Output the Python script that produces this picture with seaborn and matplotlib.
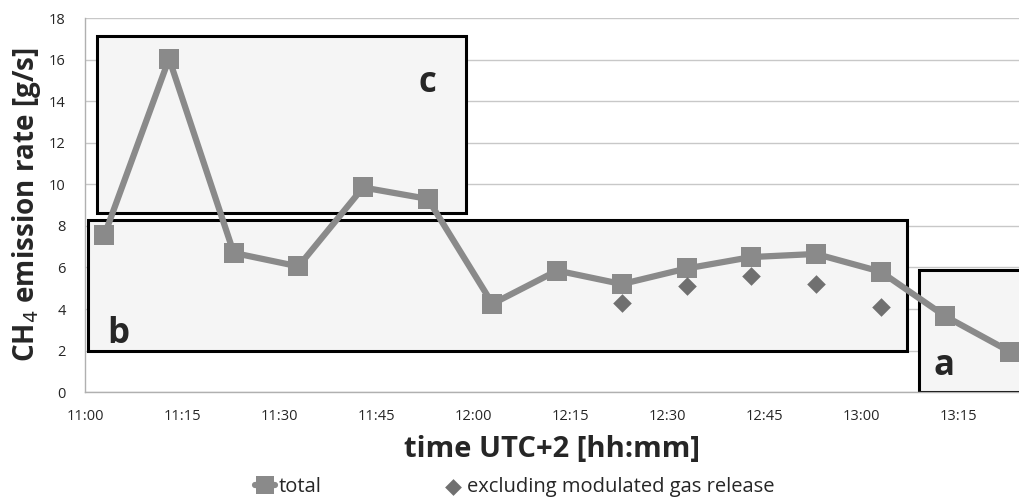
import numpy as np
import pandas as pd
import seaborn as sns
import matplotlib.pyplot as plt
from matplotlib.patches import Rectangle
from matplotlib.ticker import MultipleLocator, FuncFormatter

# minutes after 11:00
total_time = [3, 13, 23, 33, 43, 53, 63, 73, 83, 93, 103, 113, 123, 133, 143]
total_rate = [7.55, 16.05, 6.7, 6.05, 9.85, 9.3, 4.25, 5.85, 5.2, 5.95, 6.5, 6.65, 5.8, 3.65, 1.95]
excl_time = [83, 93, 103, 113, 123]
excl_rate = [4.3, 5.1, 5.6, 5.2, 4.1]

# highlighted periods: (x0, x1, y0, y1, label)
boxes = [(1.9, 58.9, 8.6, 17.15, 'c'),
         (0.5, 127.1, 1.97, 8.28, 'b'),
         (129.0, 150.0, 0.0, 5.87, 'a')]

sns.set_style('white')
plt.rcParams['font.family'] = ['Open Sans', 'DejaVu Sans']

fig = plt.figure(figsize=(10.19, 5.04), dpi=100)
ax = fig.add_axes([0.0834, 0.222, 0.9166, 0.742])

for x0, x1, y0, y1, lab in boxes:
    ax.add_patch(Rectangle((x0, y0), x1 - x0, y1 - y0, facecolor='#f5f5f5',
                           edgecolor='black', linewidth=2.2, zorder=1))

ax.text(53, 14.9, 'c', fontsize=25, fontweight='bold', ha='center', va='center', zorder=2)
ax.text(5.2, 2.8, 'b', fontsize=25, fontweight='bold', ha='center', va='center', zorder=2)
ax.text(132.8, 1.25, 'a', fontsize=25, fontweight='bold', ha='center', va='center', zorder=2)

df_total = pd.DataFrame({'t': total_time, 'rate': total_rate})
df_excl = pd.DataFrame({'t': excl_time, 'rate': excl_rate})

sns.lineplot(data=df_total, x='t', y='rate', ax=ax, color='#8a8a8a', linewidth=4.5,
             marker='s', markersize=14, markeredgewidth=0, zorder=4, label='total')
sns.scatterplot(data=df_excl, x='t', y='rate', ax=ax, color='#707070', marker='D',
                s=90, linewidth=0, zorder=5, label='excluding modulated gas release')

ax.set_xlim(0, 144.4)
ax.set_ylim(0, 18)
ax.yaxis.set_major_locator(MultipleLocator(2))
ax.xaxis.set_major_locator(MultipleLocator(15))
ax.xaxis.set_minor_locator(MultipleLocator(5))
ax.xaxis.set_major_formatter(FuncFormatter(lambda v, p: '%d:%02d' % (11 + int(v) // 60, int(v) % 60)))
ax.grid(axis='y', color='#c8c8c8', linewidth=1, zorder=0)
ax.set_axisbelow(True)

for s in ['top', 'right']:
    ax.spines[s].set_visible(False)
for s in ['left', 'bottom']:
    ax.spines[s].set_color('#b0b0b0')
    ax.spines[s].set_linewidth(1)

ax.tick_params(axis='x', which='both', direction='in', length=5, color='#b0b0b0',
               labelsize=10.5, pad=12)
ax.tick_params(axis='y', length=0, labelsize=10.5, pad=14)

ax.set_xlabel('time UTC+2 [hh:mm]', fontsize=21, fontweight='bold', labelpad=8)
ax.set_ylabel('CH$_4$ emission rate [g/s]', fontsize=20, fontweight='bold', labelpad=4)

ax.legend(loc='center', bbox_to_anchor=(0.46, -0.255), ncol=2, frameon=False,
          fontsize=14.5, handlelength=1.0, handletextpad=0.2, columnspacing=6,
          markerscale=0.9)

fig.savefig('out.png', dpi=100)
